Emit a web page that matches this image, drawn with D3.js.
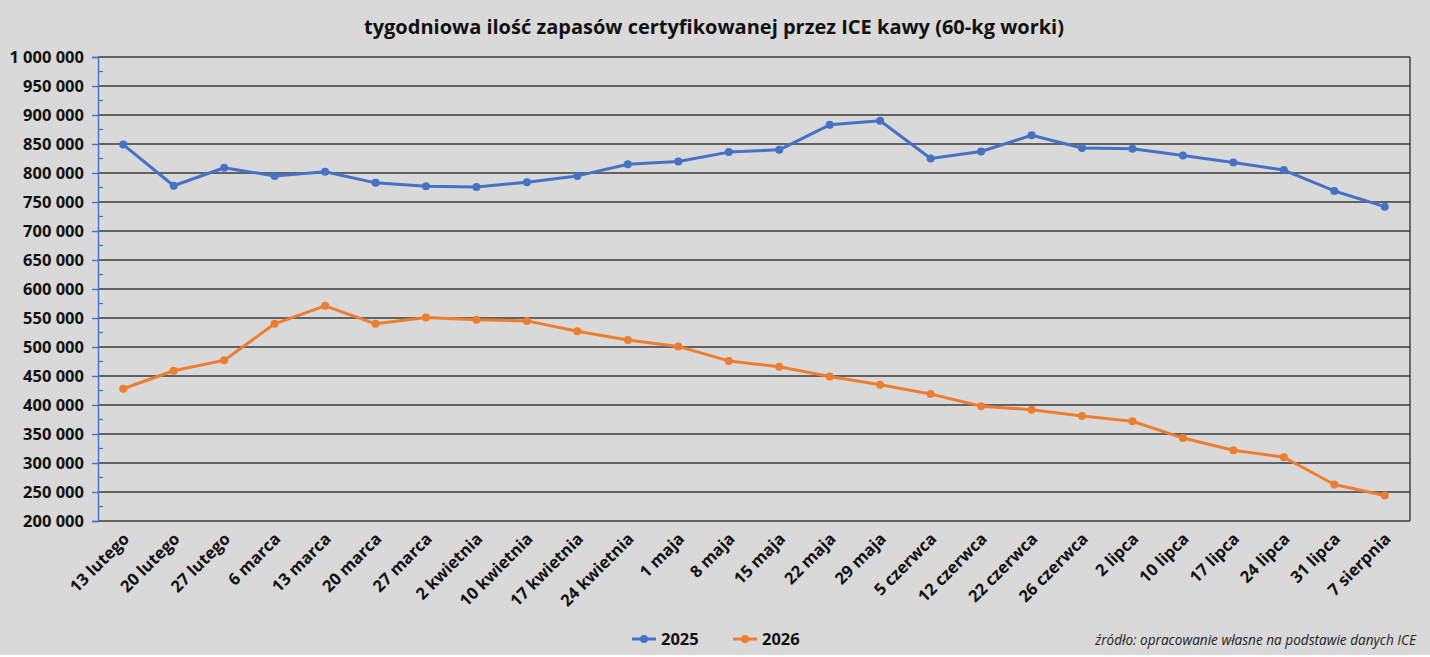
<!DOCTYPE html>
<html>
<head>
<meta charset="utf-8">
<script src="https://cdn.jsdelivr.net/npm/d3@7"></script>
<style>
  body { margin: 0; background: #fff; }
  svg { display: block; }
</style>
</head>
<body>
<svg id="chart" width="1430" height="657"></svg>
<script>
(function(){

  const weeks =
    ['13 lutego','20 lutego','27 lutego','6 marca','13 marca','20 marca',
     '27 marca','2 kwietnia','10 kwietnia','17 kwietnia','24 kwietnia',
     '1 maja','8 maja','15 maja','22 maja','29 maja','5 czerwca',
     '12 czerwca','22 czerwca','26 czerwca','2 lipca','10 lipca',
     '17 lipca','24 lipca','31 lipca','7 sierpnia']

  const stocks2025 =
    [849000, 778000, 809000, 795000, 802000, 783000, 777000, 776000,
     784000, 795000, 815000, 820000, 836000, 840000, 883000, 890000,
     825000, 837000, 865000, 843000, 842000, 830000, 818000, 805000,
     769000, 742000]

  const stocks2026 =
    [428000, 459000, 477000, 540000, 571000, 540000, 551000, 547000,
     545000, 527000, 512000, 501000, 476000, 466000, 449000, 435000,
     419000, 398000, 392000, 381000, 372000, 343000, 322000, 310000,
     263000, 244000]

  const yTicks = d3.range(200000, 1000001, 50000)

  const series = [
    { name: '2025', values: stocks2025, color: '#4472C4' },
    { name: '2026', values: stocks2026, color: '#ED7D31' }
  ]

  const font = 'Open Sans'
  const left = 98, right = 1410, top = 57, bottom = 521

  const pl = d3.formatLocale({ decimal: ',', thousands: '\u00a0', grouping: [3], currency: ['', ''] })
  const fmt = pl.format(',')

  const svg = d3.select('#chart')

  svg.append('rect').attr('width', 1430).attr('height', 655).attr('fill', '#D9D9D9')

  const x = d3.scalePoint().domain(weeks).range([left, right]).padding(0.5)
  const y = d3.scaleLinear().domain([200000, 1000000]).range([bottom, top])

  // title
  svg.append('text')
      .attr('x', 714).attr('y', 34)
      .attr('text-anchor', 'middle')
      .attr('font-family', font).attr('font-weight', 'bold')
      .attr('font-size', '20px').attr('fill', '#111')
      .text('tygodniowa ilość zapasów certyfikowanej przez ICE kawy (60-kg worki)')

  // gridlines
  svg.append('g')
      .selectAll('line').data(yTicks)
      .enter().append('line')
        .attr('x1', left).attr('x2', right)
        .attr('y1', d => y(d)).attr('y2', d => y(d))
        .attr('stroke', '#3a3a3a').attr('stroke-width', 1.4)

  // right border
  svg.append('line')
      .attr('x1', right).attr('x2', right).attr('y1', top).attr('y2', bottom)
      .attr('stroke', '#3a3a3a').attr('stroke-width', 1.4)

  // y axis: major ticks outside, minor inside
  const yAxis = svg.append('g').attr('transform', `translate(${left},0)`)
      .call(d3.axisLeft(y).tickValues(yTicks).tickSize(6).tickFormat(fmt))
  yAxis.select('.domain').attr('stroke', '#4472C4').attr('stroke-width', 1.4)
  yAxis.selectAll('.tick line').attr('stroke', '#4472C4').attr('stroke-width', 1.4)
  yAxis.selectAll('.tick text')
      .attr('x', -14).attr('dy', '0.35em')
      .attr('font-family', font).attr('font-weight', 'bold')
      .attr('font-size', '16.5px').attr('fill', '#111')

  svg.append('g')
      .selectAll('line').data(d3.range(225000, 1000000, 50000))
      .enter().append('line')
        .attr('x1', left).attr('x2', left + 5)
        .attr('y1', d => y(d)).attr('y2', d => y(d))
        .attr('stroke', '#4472C4').attr('stroke-width', 1.2)

  // x labels
  svg.append('g')
      .selectAll('text').data(weeks)
      .enter().append('text')
        .attr('transform', d => `translate(${x(d) + 7},${bottom + 19}) rotate(-45)`)
        .attr('text-anchor', 'end')
        .attr('font-family', font).attr('font-weight', 'bold')
        .attr('font-size', '16.5px').attr('fill', '#111')
        .text(d => d)

  // lines and markers
  const line = d3.line().x((d, i) => x(weeks[i])).y(d => y(d))

  series.forEach(function(s) {
    svg.append('path')
        .attr('d', line(s.values))
        .attr('fill', 'none').attr('stroke', s.color)
        .attr('stroke-width', 3).attr('stroke-linejoin', 'round')
    svg.append('g')
        .selectAll('circle').data(s.values)
        .enter().append('circle')
          .attr('cx', (d, i) => x(weeks[i])).attr('cy', d => y(d))
          .attr('r', 4).attr('fill', s.color)
  })

  // legend
  const legend = svg.append('g')
      .selectAll('g').data(series)
      .enter().append('g')
        .attr('transform', (d, i) => `translate(${632 + i * 101},639)`)
  legend.append('line')
      .attr('x1', 0).attr('x2', 24)
      .attr('stroke', d => d.color).attr('stroke-width', 3)
  legend.append('circle')
      .attr('cx', 12).attr('r', 4).attr('fill', d => d.color)
  legend.append('text')
      .attr('x', 29).attr('dy', '0.35em')
      .attr('font-family', font).attr('font-weight', 'bold')
      .attr('font-size', '16.5px').attr('fill', '#111')
      .text(d => d.name)

  // source
  svg.append('text')
      .attr('x', 1416).attr('y', 645)
      .attr('text-anchor', 'end')
      .attr('font-family', font).attr('font-style', 'italic')
      .attr('font-size', '13.6px').attr('fill', '#222')
      .text('źródło: opracowanie własne na podstawie danych ICE')

})()
</script>
</body>
</html>
